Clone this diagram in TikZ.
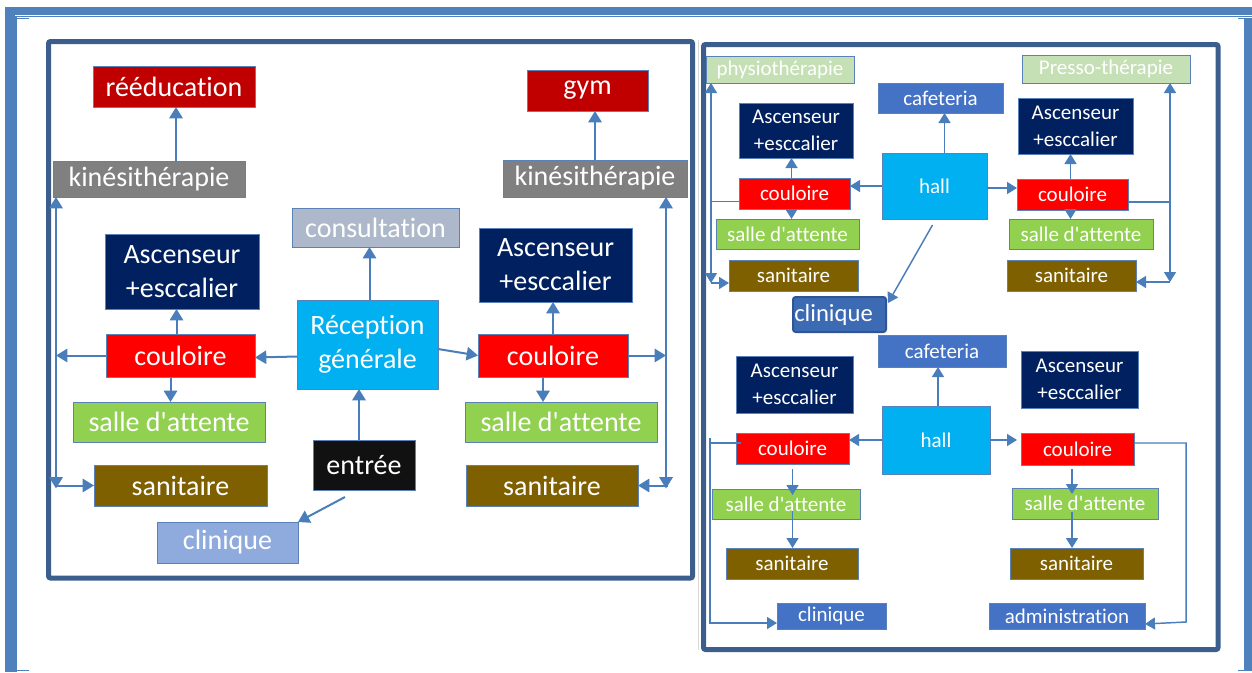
\documentclass[tikz,border=0pt]{standalone}
\usepackage{fontspec}
\setmainfont{Carlito}[Ligatures={NoCommon}]
\usetikzlibrary{calc,arrows.meta}
\definecolor{cFrame}{HTML}{4F81BD}
\definecolor{cPanel}{HTML}{3B5E8C}
\definecolor{cArrow}{HTML}{4A7EBB}
\definecolor{cEdge}{HTML}{5B82B8}
\definecolor{cDarkRed}{HTML}{C00000}
\definecolor{cGray}{HTML}{808080}
\definecolor{cConsult}{HTML}{ADB9CA}
\definecolor{cNavy}{HTML}{002060}
\definecolor{cCyan}{HTML}{00B0F0}
\definecolor{cRed}{HTML}{FF0000}
\definecolor{cGreen}{HTML}{92D050}
\definecolor{cBrown}{HTML}{7F6000}
\definecolor{cBlack}{HTML}{111111}
\definecolor{cLightBlue}{HTML}{8FAADC}
\definecolor{cPale}{HTML}{C5E0B4}
\definecolor{cMid}{HTML}{4472C4}
\definecolor{cClin}{HTML}{3D6BB3}
\definecolor{cClinEdge}{HTML}{2F5597}
\newcommand{\bx}[7]{%
  \pgfmathsetmacro{\bxcx}{(#2+#4)/2}%
  \pgfmathsetmacro{\bxcy}{(#3+#5)/2}%
  \pgfmathsetmacro{\bxw}{(#4-#2)*0.75}%
  \pgfmathsetmacro{\bxh}{(#5-#3)*0.75}%
  \node[box,#6,minimum width=\bxw pt,minimum height=\bxh pt] (#1) at (\bxcx,\bxcy) {#7};}
\newcommand{\sda}{salle d\textquotesingle attente}
\begin{document}
\begin{tikzpicture}[x=0.75pt,y=-0.75pt,
  box/.style={draw=cEdge,line width=0.6pt,inner sep=0pt,outer sep=0pt,text=white,align=center},
  fbig/.style={font=\fontsize{21}{25.5}\selectfont},
  fsml/.style={font=\fontsize{15.75}{20.25}\selectfont},
  conL/.style={draw=cArrow,line width=1.5pt},
  arL/.style={conL,-{Triangle[length=8.5pt,width=10pt]}},
  conR/.style={draw=cArrow,line width=1.1pt},
  arR/.style={conR,-{Triangle[length=7.5pt,width=9pt]}},
  arRb/.style={conR,{Triangle[length=7.5pt,width=9pt]}-{Triangle[length=7.5pt,width=9pt]}},
  panel/.style={draw=cPanel,line width=3.75pt,rounded corners=1.5pt}]
\useasboundingbox (0,0) rectangle (1252,672);
% page frame
\fill[cFrame] (5,7) rectangle (1252,14.5);
\fill[cFrame] (5,7) rectangle (14.5,672);
\fill[cFrame] (1243.5,18) rectangle (1252,671);
\draw[cFrame,line width=1.1pt] (15.8,672) -- (15.8,16.3) -- (1252,16.3);
\draw[cFrame,line width=1.1pt] (15.8,18.6) -- (29,18.6);
\draw[cFrame,line width=1.1pt] (15.8,670.6) -- (29,670.6);
\draw[cFrame,line width=1.1pt] (1238,18.6) -- (1243.5,18.6);
\draw[cFrame,line width=1.1pt] (1238,670.6) -- (1243.5,670.6);
\draw[gray!30,line width=0.75pt] (698,40) -- (698,650);
% panels
\draw[panel] (48.5,41.5) rectangle (692.5,578);
\draw[panel] (703.5,44.5) rectangle (1218,649.5);
% left panel boxes
\bx{reeduc}{93}{66}{255}{107}{fill=cDarkRed,fbig}{rééducation}
\bx{gym}{527}{70}{648}{111}{fill=cDarkRed,fbig}{gym}
\bx{kineL}{53}{161}{245}{197}{fill=cGray,fbig}{kinésithérapie}
\bx{kineR}{503}{160}{687}{197}{fill=cGray,fbig}{kinésithérapie}
\bx{consult}{292}{208}{459}{247}{fill=cConsult,fbig}{consultation}
\bx{ascL}{105}{234}{259}{309}{fill=cNavy,fbig}{Ascenseur\\+esccalier}
\bx{ascR}{479}{228}{632}{302}{fill=cNavy,fbig}{Ascenseur\\+esccalier}
\bx{recep}{297}{300}{438}{389}{fill=cCyan,fbig}{Réception\\générale}
\bx{couloireL}{106}{334}{255}{377}{fill=cRed,fbig}{couloire}
\bx{couloireR}{478}{334}{628}{377}{fill=cRed,fbig}{couloire}
\bx{salleL}{73}{402}{265}{442}{fill=cGreen,fbig}{\sda}
\bx{salleR}{465}{402}{657}{442}{fill=cGreen,fbig}{\sda}
\bx{sanL}{94}{465}{267}{506}{fill=cBrown,fbig}{sanitaire}
\bx{sanR}{466}{465}{638}{506}{fill=cBrown,fbig}{sanitaire}
\bx{entree}{313}{440}{415}{490}{fill=cBlack,fbig}{entrée}
\bx{clinL}{157}{522}{298}{563}{fill=cLightBlue,fbig}{clinique}
% right panel, top
\bx{physio}{706}{56}{854}{83}{fill=cPale,fsml}{physiothérapie}
\bx{presso}{1022}{55}{1190}{83}{fill=cPale,fsml}{Presso-thérapie}
\bx{cafT}{878}{83}{1003}{113}{fill=cMid,fsml}{cafeteria}
\bx{ascTL}{739}{103}{853}{158}{fill=cNavy,fsml}{Ascenseur\\+esccalier}
\bx{ascTR}{1018}{98}{1133}{154}{fill=cNavy,fsml}{Ascenseur\\+esccalier}
\bx{hallT}{882}{153}{987}{219}{fill=cCyan,fsml}{hall}
\bx{couloireTL}{739}{178}{850}{209}{fill=cRed,fsml}{couloire}
\bx{couloireTR}{1017}{179}{1128}{210}{fill=cRed,fsml}{couloire}
\bx{salleTL}{716}{219}{859}{249}{fill=cGreen,fsml}{\sda}
\bx{salleTR}{1009}{219}{1153}{249}{fill=cGreen,fsml}{\sda}
\bx{sanTL}{729}{260}{858}{291}{fill=cBrown,fsml}{sanitaire}
\bx{sanTR}{1007}{260}{1136}{291}{fill=cBrown,fsml}{sanitaire}
\bx{clinT}{793}{297}{886}{332}{fill=cClin,draw=cClinEdge,line width=1.5pt,rounded corners=2pt}{}
\node[text=white,font=\fontsize{18.5}{22}\selectfont,anchor=west,inner sep=0pt] (clinTtext) at ($(clinT.west)+(1,0)$) {clinique};
% right panel, bottom
\bx{cafB}{878}{335}{1006}{367}{fill=cMid,fsml}{cafeteria}
\bx{ascBL}{736}{356}{853}{413}{fill=cNavy,fsml}{Ascenseur\\+esccalier}
\bx{ascBR}{1021}{351}{1138}{408}{fill=cNavy,fsml}{Ascenseur\\+esccalier}
\bx{hallB}{882}{406}{990}{474}{fill=cCyan,fsml}{hall}
\bx{couloireBL}{736}{433}{849}{464}{fill=cRed,fsml}{couloire}
\bx{couloireBR}{1021}{433}{1134}{465}{fill=cRed,fsml}{couloire}
\bx{salleBL}{712}{489}{860}{519}{fill=cGreen,fsml}{\sda}
\bx{salleBR}{1012}{488}{1158}{519}{fill=cGreen,fsml}{\sda}
\bx{sanBL}{726}{548}{858}{579}{fill=cBrown,fsml}{sanitaire}
\bx{sanBR}{1010}{548}{1143}{579}{fill=cBrown,fsml}{sanitaire}
\bx{clinB}{777}{603}{886}{629}{fill=cMid,fsml}{clinique}
\bx{admin}{989}{603}{1145}{629}{fill=cMid,fsml}{administration}
% ---- left panel connectors
\draw[arL] ($(reeduc.south |- kineL.north)+(2,0)$) -- ($(reeduc.south)+(2,0)$);
\draw[arL] ($(couloireL.north)+(-4,0)$) -- ($(couloireL.north |- ascL.south)+(-4,0)$);
\draw[arL] ($(couloireL.south)+(-10,0)$) -- ($(couloireL.south |- salleL.north)+(-10,0)$);
\draw[arL] ($(recep.north)+(2,0)$) -- ($(recep.north |- consult.south)+(2,0)$);
\draw[arL] ($(recep.west)+(0,12)$) -- ($(couloireL.east)+(0,2)$);
\coordinate (lv) at (56,0);
\draw[arL] (couloireL.west) -- (couloireL.west -| lv);
\draw[arL] (lv |- sanL.west) -- (lv |- kineL.south);
\draw[arL] (lv |- couloireL.west) -- ($(lv |- sanL.west)+(0,3)$);
\draw[arL] (lv |- sanL.west) -- (sanL.west);
\draw[arL] ($(entree.north)+(-5,0)$) -- ($(entree.north |- recep.south)+(-5,0)$);
\draw[arL] ($(entree.south)+(-19,7)$) -- (clinL.north east);
\draw[arL] ($(recep.east)+(0,4.5)$) -- (couloireR.west);
\draw[arL] (couloireR.north) -- (couloireR.north |- ascR.south);
\draw[arL] ($(couloireR.south)+(-10,0)$) -- ($(couloireR.south |- salleR.north)+(-10,0)$);
\coordinate (rv) at (666,0);
\draw[arL] (couloireR.east) -- (couloireR.east -| rv);
\draw[arL] (rv |- sanR.east) -- (rv |- kineR.south);
\draw[arL] (rv |- couloireR.east) -- ($(rv |- sanR.east)+(0,3)$);
\draw[arL] ($(rv |- sanR.east)+(2,0)$) -- (sanR.east);
\draw[arL] (kineR.north) -- (kineR.north |- gym.south);
% ---- right panel, top connectors
\draw[arR] ($(hallT.north)+(10,0)$) -- ($(hallT.north |- cafT.south)+(10,0)$);
\draw[arR] (hallT.west) -- (hallT.west -| couloireTL.east);
\draw[arR] ($(couloireTL.north)+(-3,0)$) -- ($(couloireTL.north |- ascTL.south)+(-3,0)$);
\draw[arR] ($(couloireTL.south)+(-3,0)$) -- ($(couloireTL.south |- salleTL.north)+(-3,0)$);
\coordinate (tlv) at (711,283);
\draw[conR] ($(couloireTL.west)+(0,8)$) -- ($(couloireTL.west -| tlv)+(0,8)$);
\draw[arRb] (tlv |- physio.south) -- (tlv);
\draw[arR] (tlv) -- (tlv -| sanTL.west);
\draw[arR] ($(hallT.south)+(-2,6)$) -- ($(clinT.north east)+(2,6)$);
\draw[arR] ($(hallT.east)+(0,2)$) -- ($(hallT.east -| couloireTR.west)+(0,2)$);
\draw[arR] ($(couloireTR.north)+(-2,0)$) -- ($(couloireTR.north |- ascTR.south)+(-2,0)$);
\draw[arR] ($(couloireTR.south)+(-2,0)$) -- ($(couloireTR.south |- salleTR.north)+(-2,0)$);
\coordinate (trv) at (1170,282);
\draw[conR] ($(couloireTR.east)+(0,7.5)$) -- ($(couloireTR.east -| trv)+(0,7.5)$);
\draw[arRb] (trv |- presso.south) -- (trv);
\draw[arR] (trv) -- (trv -| sanTR.east);
% ---- right panel, bottom connectors
\draw[arR] ($(hallB.north)+(2,0)$) -- ($(hallB.north |- cafB.south)+(2,0)$);
\draw[arR] (hallB.west) -- (hallB.west -| couloireBL.east);
\coordinate (blv) at (710,623);
\draw[conR] ($(couloireBL.west)+(5,-5.5)$) -- ($(couloireBL.west -| blv)+(0,-5.5)$);
\draw[arR] ($(couloireBL.west -| blv)+(0,-10.5)$) -- (blv) -- (blv -| clinB.west);
\draw[arR] ($(couloireBL.south)+(0,5)$) -- ($(couloireBL.south |- salleBL.north)+(0,6)$);
\draw[arR] ($(couloireBL.south |- salleBL.center)+(0,7)$) -- (couloireBL.south |- sanBL.north);
\draw[arR] (hallB.east) -- ($(hallB.east -| couloireBR.west)+(-4,0)$);
\coordinate (brx) at (1072,0);
\draw[arR] ($(couloireBR.south -| brx)+(0,4)$) -- ($(salleBR.north -| brx)+(0,6)$);
\draw[arR] ($(salleBR.center -| brx)+(0,8)$) -- (sanBR.north -| brx);
\coordinate (brv) at (1186,622);
\draw[arR] ($(couloireBR.east)+(0,-6)$) -- ($(couloireBR.east -| brv)+(0,-6)$) -- (brv) -- ($(brv -| admin.east)+(0,2)$);
\end{tikzpicture}
\end{document}
